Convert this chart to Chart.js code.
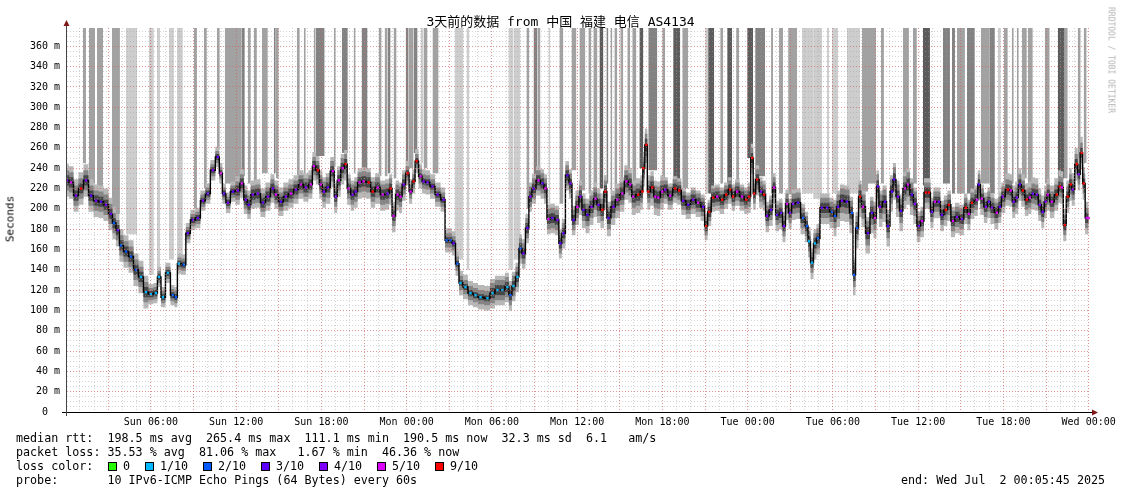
<!DOCTYPE html>
<html>
<head>
<meta charset="utf-8">
<script src="https://cdn.jsdelivr.net/npm/chart.js@4.4.0/dist/chart.umd.min.js"></script>
<style>
  body { margin: 0; background: #fff; }
  #wrap { position: relative; width: 1121px; height: 494px; font-family: "DejaVu Sans Mono", monospace; color: #000; overflow: hidden; }
  #chart { position: absolute; left: 0; top: 0; }
  .title { position: absolute; left: 0; width: 1121px; top: 11px; text-align: center; font-size: 13px; font-family: "DejaVu Sans Mono", "Noto Sans CJK SC", monospace; }
  .ylab { position: absolute; left: 10px; top: 219px; font-size: 11px; transform: translate(-50%, -50%) rotate(-90deg); white-space: pre; }
  .brand { position: absolute; left: 1111px; top: 60px; font-size: 8px; color: #b5b5b5; transform: translate(-50%, -50%) rotate(90deg); white-space: pre; }
  .leg { position: absolute; font-size: 11.7px; line-height: 14px; white-space: pre; }
  .box { position: absolute; width: 7px; height: 7px; border: 1px solid #000; top: 462px; }
</style>
</head>
<body>
<div id="wrap">
  <canvas id="chart" width="1121" height="494"></canvas>
  <div class="title">3天前的数据 from 中国 福建 电信 AS4134</div>
  <div class="ylab">Seconds</div>
  <div class="brand">RRDTOOL / TOBI OETIKER</div>
  <div class="leg" style="left:16px;top:431px">median rtt:  198.5 ms avg  265.4 ms max  111.1 ms min  190.5 ms now  32.3 ms sd  6.1   am/s</div>
  <div class="leg" style="left:16px;top:445px">packet loss: 35.53 % avg  81.06 % max   1.67 % min  46.36 % now</div>
  <div class="leg" style="left:16px;top:459px">loss color:</div>
  <div id="lossLegend"></div>
  <div class="leg" style="left:16px;top:473px">probe:       10 IPv6-ICMP Echo Pings (64 Bytes) every 60s</div>
  <div class="leg" style="left:901px;top:473px">end: Wed Jul  2 00:05:45 2025</div>
</div>
<script>
// hours since Sun 00:00
const medianHours = [
  0.10, 0.38, 0.73, 1.08, 1.43, 1.79, 2.14, 2.49, 2.84, 3.19,
  3.40, 3.68, 3.89, 4.25, 4.60, 4.95, 5.30, 5.65, 6.00, 6.35,
  6.57, 6.85, 7.20, 7.55, 7.76, 7.97, 8.32, 8.60, 8.96, 9.31,
  9.66, 10.01, 10.36, 10.71, 10.92, 11.14, 11.42, 11.77, 12.12, 12.40,
  12.68, 12.89, 13.17, 13.53, 13.89, 14.24, 14.59, 14.80, 15.15, 15.50,
  15.86, 16.21, 16.56, 16.91, 17.26, 17.47, 17.75, 17.96, 18.17, 18.45,
  18.80, 19.01, 19.22, 19.50, 19.71, 19.92, 20.20, 20.41, 20.69, 20.97,
  21.33, 21.61, 21.96, 22.31, 22.66, 22.87, 23.08, 23.36, 23.57, 23.79,
  24.07, 24.28, 24.49, 24.70, 24.98, 25.19, 25.47, 25.82, 26.18, 26.60,
  26.81, 27.09, 27.30, 27.58, 27.79, 28.14, 28.49, 28.85, 29.20, 29.69,
  30.04, 30.39, 30.74, 31.09, 31.30, 31.52, 31.80, 32.01, 32.22, 32.50,
  32.71, 32.93, 33.28, 33.56, 33.77, 33.98, 34.26, 34.61, 34.82, 35.03,
  35.32, 35.53, 35.74, 36.02, 36.23, 36.44, 36.73, 37.01, 37.29, 37.50,
  37.78, 37.99, 38.20, 38.55, 38.83, 39.18, 39.46, 39.74, 39.95, 40.30,
  40.59, 40.66, 40.87, 41.01, 41.29, 41.50, 41.71, 41.99, 42.20, 42.55,
  42.91, 43.19, 43.47, 43.82, 44.17, 44.52, 44.87, 45.08, 45.29, 45.58,
  45.86, 46.21, 46.49, 46.77, 46.98, 47.26, 47.61, 47.90, 48.11, 48.32,
  48.46, 48.67, 48.95, 49.16, 49.37, 49.65, 49.86, 50.07, 50.35, 50.56,
  50.77, 50.99, 51.20, 51.55, 51.90, 52.18, 52.32, 52.53, 52.74, 52.95,
  53.23, 53.59, 53.94, 54.15, 54.36, 54.64, 54.99, 55.34, 55.49, 55.70,
  55.91, 56.12, 56.47, 56.75, 56.96, 57.17, 57.31, 57.67, 57.88, 58.16,
  58.30, 58.58, 58.79, 59.07, 59.28, 59.56, 59.77, 60.05, 60.27, 60.55,
  60.76, 60.97, 61.18, 61.46, 61.67, 61.95, 62.16, 62.45, 62.73, 63.08,
  63.36, 63.57, 63.78, 64.13, 64.27, 64.48, 64.77, 64.98, 65.19, 65.54,
  65.75, 65.96, 66.31, 66.52, 66.73, 66.94, 67.15, 67.37, 67.65, 67.86,
  68.07, 68.35, 68.56, 68.77, 68.98, 69.12, 69.41, 69.76, 69.97, 70.11,
  70.32, 70.53, 70.74, 70.88, 71.16, 71.30, 71.51, 71.65, 71.86, 72.00
];

// median rtt in ms
const medianMs = [
  228, 226, 213, 220, 228, 213, 208, 207, 204, 195,
  186, 179, 164, 158, 153, 140, 133, 118, 116, 117,
  133, 113, 137, 115, 113, 146, 145, 176, 189, 191,
  208, 215, 238, 251, 235, 215, 206, 217, 218, 225,
  209, 204, 214, 215, 206, 212, 220, 214, 207, 212,
  215, 219, 224, 221, 224, 242, 238, 224, 217, 221,
  237, 212, 228, 240, 244, 220, 214, 217, 226, 227,
  226, 217, 221, 214, 215, 220, 193, 214, 212, 224,
  235, 217, 227, 247, 232, 227, 226, 222, 214, 209,
  169, 169, 166, 146, 127, 123, 117, 115, 113, 112,
  117, 120, 120, 123, 115, 124, 133, 161, 156, 181,
  212, 220, 228, 225, 220, 190, 191, 189, 166, 176,
  233, 225, 189, 202, 212, 199, 194, 202, 210, 204,
  199, 217, 191, 202, 209, 215, 227, 224, 212, 214,
  217, 240, 263, 217, 221, 212, 211, 217, 219, 213,
  220, 218, 208, 204, 209, 206, 202, 183, 197, 211,
  212, 209, 214, 219, 212, 217, 212, 209, 212, 250,
  215, 229, 217, 214, 193, 199, 221, 194, 196, 183,
  205, 196, 205, 206, 191, 183, 168, 147, 166, 171,
  201, 201, 197, 193, 202, 208, 207, 196, 135, 181,
  212, 202, 176, 196, 191, 222, 202, 207, 183, 217,
  229, 212, 198, 220, 224, 214, 205, 183, 188, 216,
  216, 197, 207, 207, 194, 199, 204, 188, 192, 190,
  201, 195, 206, 209, 224, 210, 202, 207, 201, 196,
  202, 212, 219, 218, 207, 211, 224, 218, 209, 211,
  215, 214, 204, 197, 207, 214, 207, 214, 222, 221,
  184, 212, 224, 219, 244, 234, 255, 225, 191, 191
];

// lost pings out of 10 at each median sample
const lossTenths = [
  4, 5, 4, 9, 4, 3, 4, 3, 4, 3,
  2, 3, 2, 2, 2, 2, 1, 1, 1, 1,
  1, 1, 1, 2, 2, 1, 2, 3, 3, 3,
  4, 3, 4, 3, 5, 3, 4, 3, 4, 5,
  4, 3, 4, 4, 3, 4, 3, 5, 3, 4,
  5, 4, 5, 4, 5, 5, 9, 5, 4, 3,
  5, 4, 5, 5, 9, 5, 4, 4, 5, 5,
  9, 9, 5, 5, 4, 9, 5, 5, 5, 4,
  9, 5, 9, 9, 5, 4, 4, 4, 4, 4,
  2, 2, 3, 2, 1, 1, 1, 1, 1, 1,
  1, 1, 1, 1, 2, 1, 1, 2, 3, 3,
  4, 3, 5, 3, 5, 5, 3, 4, 3, 3,
  3, 4, 3, 5, 4, 3, 3, 4, 5, 4,
  9, 9, 3, 4, 5, 5, 5, 5, 5, 9,
  9, 9, 9, 9, 9, 5, 5, 5, 4, 5,
  9, 9, 4, 3, 4, 5, 3, 9, 9, 9,
  5, 9, 9, 9, 9, 5, 5, 9, 9, 9,
  9, 9, 4, 9, 4, 3, 5, 3, 3, 4,
  5, 3, 4, 3, 2, 2, 1, 1, 1, 2,
  3, 3, 2, 2, 3, 4, 3, 2, 2, 2,
  9, 5, 3, 3, 5, 3, 4, 3, 3, 3,
  3, 4, 3, 5, 5, 3, 4, 3, 5, 9,
  9, 3, 5, 4, 3, 9, 9, 5, 4, 4,
  9, 5, 9, 5, 3, 5, 4, 3, 4, 5,
  3, 4, 9, 5, 4, 4, 3, 9, 9, 5,
  3, 4, 4, 3, 4, 5, 5, 9, 9, 5,
  9, 9, 9, 4, 9, 4, 9, 9, 5, 5
];

// smoke spread (ms) around the median, per 6-hour block
const smokeOuterBelow = [16, 10, 14, 16, 12, 15, 18, 14, 16, 20, 16, 16];
const smokeOuterAbove = [16, 10, 14, 14, 12, 14, 16, 12, 14, 16, 14, 16];
const smokeMid = [10, 6, 9, 10, 7, 10, 11, 9, 10, 12, 10, 10];
const smokeCore = [5, 3, 5, 5, 3, 5, 6, 5, 5, 6, 5, 5];

// periods where lost pings push the smoke to the top of the graph
const gapStart = [
  1.22, 1.64, 2.21, 3.26, 4.25, 5.86, 6.43, 7.27, 7.83, 9.03,
  9.73, 10.64, 11.20, 12.40, 12.82, 13.24, 13.81, 14.65, 14.79, 16.27,
  16.76, 17.46, 17.60, 18.87, 19.44, 20.27, 20.83, 22.03, 22.45, 22.66,
  23.08, 23.93, 24.14, 24.49, 24.98, 25.19, 25.82, 27.37, 28.21, 31.16,
  31.52, 32.43, 32.93, 33.21, 33.98, 34.75, 35.60, 36.16, 36.79, 37.14,
  37.57, 38.06, 38.34, 38.62, 38.97, 39.04, 39.53, 39.88, 40.38, 41.01,
  41.99, 42.76, 43.40, 45.01, 45.22, 46.07, 46.56, 47.19, 47.97, 48.53,
  49.65, 50.21, 50.85, 51.83, 52.61, 53.59, 53.94, 54.99, 56.05, 56.47,
  57.38, 58.93, 59.63, 60.34, 61.74, 62.38, 62.73, 63.43, 64.41, 65.05,
  65.61, 66.03, 66.59, 66.94, 67.30, 67.72, 68.91, 69.83, 70.32, 71.23,
  71.65
];
const gapEnd = [
  1.43, 2.07, 2.63, 3.82, 5.02, 6.21, 6.64, 7.62, 8.25, 9.24,
  9.94, 10.85, 12.40, 12.61, 13.03, 13.46, 14.23, 14.79, 15.00, 16.48,
  16.90, 17.60, 18.23, 19.01, 19.86, 20.41, 21.25, 22.24, 22.66, 22.87,
  23.29, 24.14, 24.49, 24.77, 25.19, 25.47, 26.25, 28.00, 28.42, 31.52,
  32.01, 32.64, 33.21, 33.42, 34.12, 35.03, 35.95, 36.58, 37.00, 37.43,
  37.85, 38.20, 38.48, 38.83, 39.11, 39.25, 39.74, 40.17, 40.66, 41.64,
  42.20, 43.26, 43.82, 45.22, 45.65, 46.28, 46.91, 47.40, 48.39, 49.23,
  49.79, 50.49, 51.48, 52.61, 53.24, 53.73, 54.36, 55.91, 56.47, 57.03,
  57.59, 59.35, 59.91, 60.83, 62.24, 62.59, 63.29, 63.99, 65.05, 65.40,
  65.82, 66.31, 66.73, 67.08, 67.65, 68.07, 69.26, 70.32, 70.53, 71.44,
  71.86
];
// lowest ms of each gap column
const gapFloor = [
  245, 225, 220, 195, 175, 135, 140, 150, 150, 200,
  220, 258, 225, 232, 225, 225, 235, 235, 230, 233,
  235, 250, 252, 242, 255, 235, 235, 232, 232, 235,
  230, 245, 240, 255, 245, 240, 235, 150, 140, 140,
  150, 200, 230, 235, 200, 205, 238, 218, 215, 218,
  220, 225, 215, 218, 220, 225, 235, 225, 240, 238,
  228, 225, 220, 215, 215, 225, 225, 225, 250, 232,
  215, 215, 214, 215, 210, 215, 215, 215, 217, 225,
  225, 233, 225, 223, 225, 215, 215, 215, 225, 215,
  215, 225, 225, 225, 230, 225, 225, 230, 230, 245,
  245
];
// how many smoke layers overlap in the gap (1 = light ... 4 = dark)
const gapDepth = [
  2, 2, 2, 2, 1, 1, 1, 1, 1, 2,
  2, 2, 2, 3, 2, 2, 2, 3, 2, 2,
  2, 2, 3, 2, 3, 2, 3, 2, 2, 3,
  2, 3, 2, 3, 1, 2, 2, 1, 1, 1,
  1, 2, 3, 2, 1, 2, 2, 2, 2, 2,
  4, 3, 2, 2, 1, 2, 2, 2, 4, 3,
  2, 4, 2, 1, 4, 2, 4, 2, 4, 3,
  2, 2, 2, 1, 1, 1, 1, 1, 2, 2,
  2, 2, 2, 4, 3, 3, 2, 3, 2, 3,
  1, 2, 2, 2, 2, 2, 2, 4, 2, 2,
  2
];

const xTickHours = [6, 12, 18, 24, 30, 36, 42, 48, 54, 60, 66, 72];
const xTickLabels = ["Sun 06:00", "Sun 12:00", "Sun 18:00", "Mon 00:00", "Mon 06:00", "Mon 12:00",
  "Mon 18:00", "Tue 00:00", "Tue 06:00", "Tue 12:00", "Tue 18:00", "Wed 00:00"];
const yTicks = [0, 20, 40, 60, 80, 100, 120, 140, 160, 180, 200, 220, 240, 260, 280, 300, 320, 340, 360];

const lossLevels = [0, 1, 2, 3, 4, 5, 9];
const lossNames = ["0", "1/10", "2/10", "3/10", "4/10", "5/10", "9/10"];
const lossColors = { 0: "#26ff00", 1: "#00b8ff", 2: "#0059ff", 3: "#5e00ff", 4: "#7e00ff", 5: "#dd00ff", 9: "#ff0000" };
const depthColors = { 1: "#cdcdcd", 2: "#a2a2a2", 3: "#828282", 4: "#5c5c5c" };

const X_MIN = 0.096, X_MAX = 72.096, Y_MAX = 378;

// loss colour legend boxes
const legendBoxX = [108, 145, 203, 261, 319, 377, 435];
const lossLegend = document.getElementById("lossLegend");
lossLevels.forEach((lv, i) => {
  const b = document.createElement("div");
  b.className = "box";
  b.style.left = legendBoxX[i] + "px";
  b.style.background = lossColors[lv];
  lossLegend.appendChild(b);
  const t = document.createElement("div");
  t.className = "leg";
  t.style.left = (legendBoxX[i] + 15) + "px";
  t.style.top = "459px";
  t.textContent = lossNames[i];
  lossLegend.appendChild(t);
});

const blockOf = (t) => Math.min(11, Math.floor(t / 6));
const band = (spread, sign) => medianHours.map((t, i) => ({ x: t, y: medianMs[i] + sign * spread[blockOf(t)] }));

const datasets = [];

// gap columns (drawn at the back)
gapStart.forEach((s, i) => {
  datasets.push({
    data: [{ x: s, y: Y_MAX }, { x: gapEnd[i], y: Y_MAX }],
    fill: { value: gapFloor[i] },
    backgroundColor: depthColors[gapDepth[i]],
    borderColor: "transparent",
    borderWidth: 0,
    pointRadius: 0,
    order: 40
  });
});

// smoke layers
const smokeLayers = [
  { above: smokeOuterAbove, below: smokeOuterBelow, color: "#b8b8b8", order: 30 },
  { above: smokeMid, below: smokeMid, color: "#858585", order: 20 },
  { above: smokeCore, below: smokeCore, color: "#474747", order: 10 }
];
smokeLayers.forEach((l) => {
  datasets.push({
    data: band(l.above, 1), fill: false, stepped: "middle",
    borderColor: "transparent", borderWidth: 0, pointRadius: 0, order: l.order
  });
  datasets.push({
    data: band(l.below, -1), fill: "-1", stepped: "middle", backgroundColor: l.color,
    borderColor: "transparent", borderWidth: 0, pointRadius: 0, order: l.order
  });
});

// median rtt with loss-coloured samples
datasets.push({
  data: medianHours.map((t, i) => ({ x: t, y: medianMs[i] })),
  stepped: "middle",
  borderColor: "#000",
  borderWidth: 1.4,
  pointStyle: "rect",
  pointRadius: 1.7,
  pointBorderWidth: 0,
  pointBackgroundColor: lossTenths.map((l) => lossColors[l]),
  fill: false,
  order: 0
});

const axisArrows = {
  id: "axisArrows",
  afterDraw(chart) {
    const { ctx, chartArea: a } = chart;
    ctx.save();
    ctx.lineWidth = 1;
    ctx.strokeStyle = "#000";
    ctx.beginPath();
    ctx.moveTo(a.left - 5, a.bottom + 0.5);
    ctx.lineTo(a.right + 4, a.bottom + 0.5);
    ctx.stroke();
    ctx.strokeStyle = "#444";
    ctx.beginPath();
    ctx.moveTo(a.left - 0.5, a.bottom + 4);
    ctx.lineTo(a.left - 0.5, a.top - 4);
    ctx.stroke();
    ctx.fillStyle = "#801818";
    ctx.beginPath();
    ctx.moveTo(a.left - 3.5, a.top - 2);
    ctx.lineTo(a.left + 2.5, a.top - 2);
    ctx.lineTo(a.left - 0.5, a.top - 8);
    ctx.closePath();
    ctx.fill();
    ctx.beginPath();
    ctx.moveTo(a.right + 2, a.bottom - 2.5);
    ctx.lineTo(a.right + 2, a.bottom + 3.5);
    ctx.lineTo(a.right + 8, a.bottom + 0.5);
    ctx.closePath();
    ctx.fill();
    ctx.restore();
  }
};

const minorGrid = { color: "rgba(160,160,160,0.45)", drawTicks: false, z: 1, lineWidth: 1 };
const majorGrid = { color: "rgba(235,60,60,0.42)", drawTicks: false, z: 1, lineWidth: 1 };
const dotted = { display: false, dash: [1, 2] };

new Chart(document.getElementById("chart"), {
  type: "line",
  data: { datasets },
  plugins: [axisArrows],
  options: {
    responsive: false,
    animation: false,
    events: [],
    layout: { padding: { top: 28, right: 31, left: 0, bottom: 0 } },
    plugins: { legend: { display: false }, tooltip: { enabled: false } },
    scales: {
      xm: {
        type: "linear", position: "bottom", min: X_MIN, max: X_MAX,
        afterBuildTicks: (s) => { s.ticks = Array.from({ length: 72 }, (_, i) => ({ value: i + 1 })); },
        ticks: { display: false },
        grid: minorGrid, border: dotted,
        afterFit: (s) => { s.height = 0; }
      },
      x: {
        type: "linear", position: "bottom", min: X_MIN, max: X_MAX,
        afterBuildTicks: (s) => { s.ticks = Array.from({ length: 24 }, (_, i) => ({ value: (i + 1) * 3 })); },
        ticks: {
          color: "#000", padding: 4, maxRotation: 0, autoSkip: false,
          font: { family: "DejaVu Sans Mono", size: 10 },
          callback: (v) => { const k = xTickHours.indexOf(v); return k >= 0 ? xTickLabels[k] : ""; }
        },
        grid: majorGrid, border: dotted,
        afterFit: (s) => { s.height = 82; }
      },
      ym: {
        type: "linear", position: "left", min: 0, max: Y_MAX,
        afterBuildTicks: (s) => { s.ticks = Array.from({ length: 76 }, (_, i) => ({ value: i * 5 })); },
        ticks: { display: false },
        grid: minorGrid, border: dotted,
        afterFit: (s) => { s.width = 0; }
      },
      y: {
        type: "linear", position: "left", min: 0, max: Y_MAX,
        afterBuildTicks: (s) => { s.ticks = yTicks.map((v) => ({ value: v })); },
        ticks: {
          color: "#000", padding: 7,
          font: { family: "DejaVu Sans Mono", size: 10 },
          callback: (v) => (v === 0 ? "0  " : v + " m")
        },
        grid: majorGrid, border: dotted,
        afterFit: (s) => { s.width = 67; }
      }
    }
  }
});
</script>
</body>
</html>
